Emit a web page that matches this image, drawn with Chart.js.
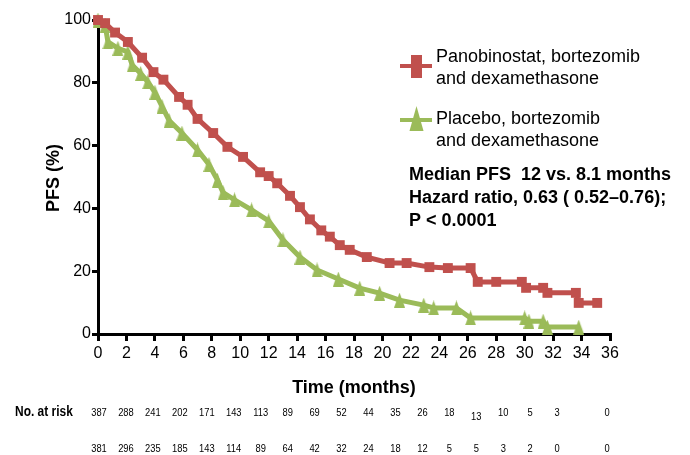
<!DOCTYPE html>
<html><head><meta charset="utf-8">
<script src="https://cdn.jsdelivr.net/npm/chart.js@4/dist/chart.umd.min.js"></script>
<style>html,body{margin:0;padding:0;background:#fff}#wrap{width:690px;height:455px}</style>
</head><body><div id="wrap"><canvas id="c" width="690" height="455"></canvas></div>
<script>
// ---- data ----
const months = [0,2,4,6,8,10,12,14,16,18,20,22,24,26,28,30,32,34,36];
const panoTime = [0,0.5,1.2,2.1,3.1,3.9,4.6,5.7,6.3,7.0,8.1,9.1,10.2,11.4,12.0,12.6,13.5,14.2,14.9,15.7,16.3,17.0,17.7,18.9,20.5,21.7,23.3,24.6,26.2,26.7,28.0,29.8,30.1,31.3,31.6,33.6,33.8,35.1];
const panoPFS  = [100,99,96,93,88,83.4,81,75.5,73,68.5,64,59.6,56.4,51.5,50.3,48,44,40.4,36.5,33,31,28.3,26.8,24.5,22.6,22.6,21.3,21,21,16.6,16.6,16.6,14.7,14.7,13.1,13.1,9.9,9.9];
const placTime = [0,0.5,0.7,1.4,2.1,2.4,3.0,3.5,4.0,4.5,5.0,5.9,7.0,7.8,8.4,8.8,9.6,10.8,12.0,13.0,14.2,15.4,16.9,18.4,19.8,21.2,22.9,23.6,25.2,26.2,30.0,30.3,31.3,31.6,33.8];
const placPFS  = [100,98.4,93,91,89.8,85.7,83,80.3,77,72.5,68,64,58.6,54,49,45,42.7,39.5,36,30,24.5,20.4,17.5,14.6,13,10.8,9.2,8.3,8.3,5.1,5.1,4.1,4.1,2.2,2.2];
const riskPano = [387,288,241,202,171,143,113,89,69,52,44,35,26,18,13,10,5,3,0];
const riskPlac = [381,296,235,185,143,114,89,64,42,32,24,18,12,5,5,3,2,0,0];
const seriesNames = [['Panobinostat, bortezomib','and dexamethasone'],['Placebo, bortezomib','and dexamethasone']];
const statsLines = ['Median PFS  12 vs. 8.1 months','Hazard ratio, 0.63 ( 0.52–0.76);','P < 0.0001'];
const yTitle = 'PFS (%)', xTitle = 'Time (months)', riskTitle = 'No. at risk';

const RED = '#C0504D', GREEN = '#9BBB59';
const FONT = '"Liberation Sans", Arial, sans-serif';

function triCanvas(w, h, color) {
  const c = document.createElement('canvas'); c.width = w; c.height = h;
  const g = c.getContext('2d'); g.fillStyle = color;
  g.beginPath(); g.moveTo(w/2, 0); g.lineTo(w, h); g.lineTo(0, h); g.closePath(); g.fill();
  return c;
}
const tri = triCanvas(11, 15, GREEN);

const toPts = (t, s) => t.map((v, i) => ({x: v, y: s[i]}));

const textPlugin = {
  id: 'texts',
  afterDraw(chart) {
    const ctx = chart.ctx;
    const area = chart.chartArea;
    ctx.save();
    ctx.fillStyle = '#000';
    // axis titles
    ctx.font = 'bold 18px ' + FONT;
    ctx.textAlign = 'center'; ctx.textBaseline = 'alphabetic';
    ctx.fillText(xTitle, (area.left + area.right) / 2, 393);
    ctx.save();
    ctx.translate(54, 178); ctx.rotate(-Math.PI / 2);
    ctx.textBaseline = 'middle';
    ctx.fillText(yTitle, 0, 0);
    ctx.restore();

    // legend
    const drawLegLine = (y, color) => {
      ctx.strokeStyle = color; ctx.lineWidth = 4;
      ctx.beginPath(); ctx.moveTo(400, y); ctx.lineTo(432, y); ctx.stroke();
    };
    drawLegLine(66, RED);
    ctx.fillStyle = RED; ctx.fillRect(411, 55, 11, 23);
    drawLegLine(120, GREEN);
    ctx.fillStyle = GREEN;
    ctx.beginPath(); ctx.moveTo(416.5, 106); ctx.lineTo(423.5, 131); ctx.lineTo(409.5, 131); ctx.closePath(); ctx.fill();

    ctx.fillStyle = '#000';
    ctx.textAlign = 'left'; ctx.textBaseline = 'alphabetic';
    ctx.font = '18px ' + FONT;
    ctx.fillText(seriesNames[0][0], 436, 62);
    ctx.fillText(seriesNames[0][1], 436, 84);
    ctx.fillText(seriesNames[1][0], 436, 124);
    ctx.fillText(seriesNames[1][1], 436, 146);

    ctx.font = 'bold 18px ' + FONT;
    statsLines.forEach((s, i) => ctx.fillText(s, 409, 180 + i * 23));

    // risk table
    ctx.font = 'bold 13px ' + FONT;
    ctx.textBaseline = 'middle';
    ctx.save();
    ctx.translate(15, 412); ctx.scale(0.92, 1.08);
    ctx.fillText(riskTitle, 0, 0);
    ctx.restore();
    ctx.font = '11px ' + FONT;
    ctx.textAlign = 'center';
    const colX = i => (i < months.length - 1 ? 99 + i * 26.95 : 607);
    const drawNum = (v, x, y) => {
      ctx.save(); ctx.translate(x, y); ctx.scale(0.85, 1.05);
      ctx.fillText(String(v), 0, 0); ctx.restore();
    };
    riskPano.forEach((v, i) => drawNum(v, colX(i), i === 14 ? 417 : 413));
    riskPlac.forEach((v, i) => drawNum(v, colX(i), 449));
    ctx.restore();
  }
};

new Chart(document.getElementById('c'), {
  type: 'line',
  data: {
    datasets: [
      {
        label: seriesNames[0].join(' '),
        data: toPts(panoTime, panoPFS),
        borderColor: RED, backgroundColor: RED,
        borderWidth: 5, tension: 0,
        pointStyle: 'rect', pointRadius: 7, pointBorderWidth: 0,
        pointBackgroundColor: RED, clip: false
      },
      {
        label: seriesNames[1].join(' '),
        data: toPts(placTime, placPFS),
        borderColor: GREEN, backgroundColor: GREEN,
        borderWidth: 5, tension: 0,
        pointStyle: tri, pointRadius: 6, pointBorderWidth: 0,
        pointBackgroundColor: GREEN, clip: false
      }
    ]
  },
  options: {
    responsive: false, animation: false, devicePixelRatio: 1,
    layout: { padding: { left: 0, top: 20, right: 80, bottom: 0 } },
    plugins: { legend: { display: false }, tooltip: { enabled: false } },
    scales: {
      x: {
        type: 'linear', min: 0, max: 36,
        afterBuildTicks: s => { s.ticks = months.map(v => ({value: v})); },
        afterFit: s => { s.height = 121; },
        ticks: { font: { size: 16, family: FONT }, color: '#000', padding: 3, maxRotation: 0, autoSkip: false },
        grid: { drawOnChartArea: false, drawTicks: true, tickLength: 7, color: '#000', lineWidth: 3 },
        border: { color: '#000', width: 3 }
      },
      y: {
        min: 0, max: 100,
        ticks: { stepSize: 20, font: { size: 16, family: FONT }, color: '#000', padding: 1 },
        afterFit: s => { s.width = 98; },
        grid: { drawOnChartArea: false, drawTicks: true, tickLength: 6, color: '#000', lineWidth: 3 },
        border: { color: '#000', width: 3 }
      }
    }
  },
  plugins: [textPlugin]
});
</script>
</body></html>
